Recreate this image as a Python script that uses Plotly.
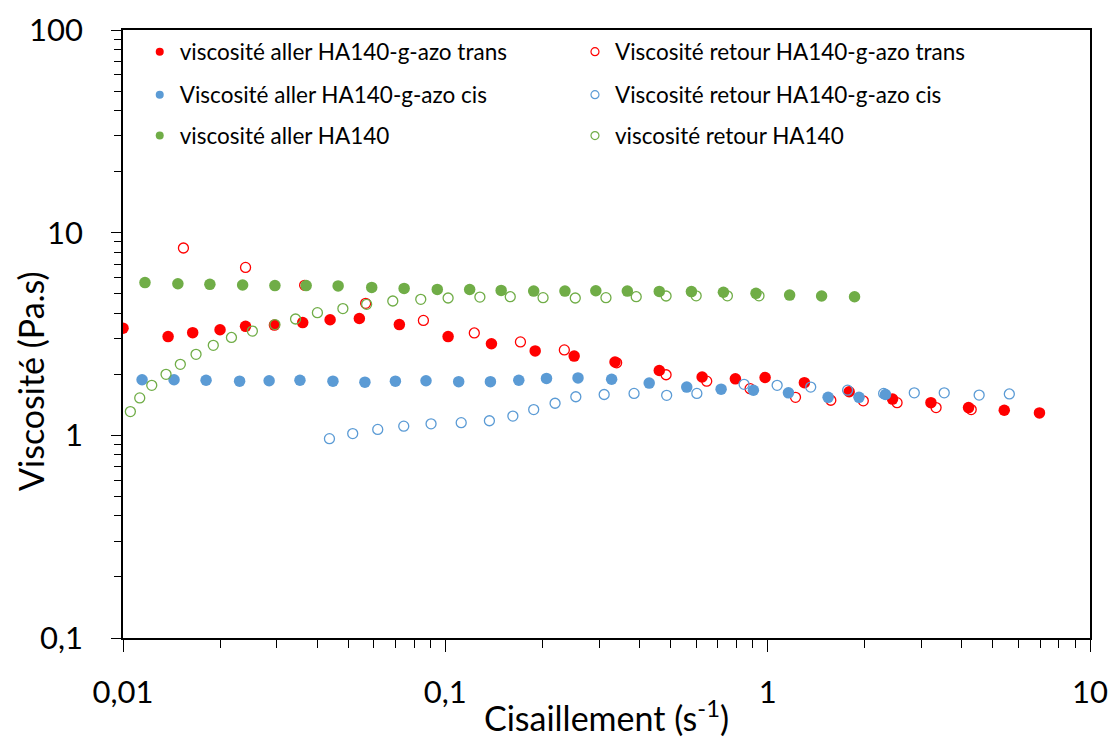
import plotly.graph_objects as go

# --- data ---
x_trans_aller = [0.0100, 0.0138, 0.01645, 0.0200, 0.0240, 0.0295, 0.0361, 0.0439, 0.0541, 0.0720,
                 0.102, 0.139, 0.190, 0.251, 0.336, 0.461, 0.626, 0.794, 0.982,
                 1.30, 1.79, 2.44, 3.21, 4.20, 5.42, 6.97]
y_trans_aller = [3.38, 3.07, 3.21, 3.32, 3.45, 3.50, 3.60, 3.72, 3.77, 3.52,
                 3.07, 2.83, 2.61, 2.46, 2.30, 2.09, 1.94, 1.90, 1.93,
                 1.82, 1.64, 1.51, 1.45, 1.37, 1.33, 1.29]

x_trans_retour = [0.0154, 0.0240, 0.0366, 0.0566, 0.0855, 0.123, 0.171, 0.234, 0.340, 0.484,
                  0.647, 0.882, 1.22, 1.57, 1.98, 2.52, 3.33, 4.28]
y_trans_retour = [8.40, 6.74, 5.50, 4.48, 3.69, 3.20, 2.89, 2.64, 2.28, 1.99,
                  1.85, 1.70, 1.54, 1.49, 1.48, 1.45, 1.37, 1.34]

x_cis_aller = [0.01146, 0.0144, 0.0181, 0.0230, 0.0284, 0.0354, 0.0448, 0.0563, 0.0700, 0.0871,
               0.110, 0.138, 0.169, 0.206, 0.258, 0.328, 0.429, 0.561, 0.717, 0.903,
               1.16, 1.54, 1.92, 2.32]
y_cis_aller = [1.88, 1.88, 1.87, 1.85, 1.86, 1.87, 1.85, 1.83, 1.85, 1.86,
               1.84, 1.84, 1.87, 1.91, 1.92, 1.89, 1.81, 1.73, 1.69, 1.67,
               1.62, 1.54, 1.54, 1.59]

x_cis_retour = [0.0437, 0.0516, 0.0617, 0.0743, 0.0903, 0.112, 0.137, 0.162, 0.188, 0.219,
                0.254, 0.311, 0.385, 0.486, 0.603, 0.845, 1.07, 1.36, 1.77, 2.29,
                2.85, 3.53, 4.53, 5.62]
y_cis_retour = [0.963, 1.02, 1.07, 1.11, 1.14, 1.155, 1.18, 1.245, 1.34, 1.44,
                1.55, 1.59, 1.61, 1.575, 1.61, 1.785, 1.765, 1.73, 1.67, 1.61,
                1.62, 1.62, 1.58, 1.60]

x_ha_aller = [0.0117, 0.0148, 0.0186, 0.0235, 0.0296, 0.0370, 0.0465, 0.0591, 0.0745, 0.0944,
              0.119, 0.149, 0.188, 0.235, 0.293, 0.367, 0.461, 0.580, 0.729, 0.920,
              1.17, 1.47, 1.86]
y_ha_aller = [5.67, 5.60, 5.56, 5.52, 5.48, 5.48, 5.46, 5.37, 5.31, 5.25,
              5.24, 5.19, 5.15, 5.15, 5.17, 5.15, 5.13, 5.12, 5.08, 5.02,
              4.92, 4.87, 4.83]

x_ha_retour = [0.01054, 0.01127, 0.01228, 0.01360, 0.01506, 0.01685, 0.01906, 0.0217, 0.0252, 0.0296,
               0.0343, 0.0401, 0.0481, 0.0570, 0.0687, 0.0839, 0.102, 0.128, 0.159, 0.201,
               0.253, 0.315, 0.391, 0.484, 0.600, 0.750, 0.940]
y_ha_retour = [1.31, 1.53, 1.765, 2.00, 2.24, 2.51, 2.78, 3.04, 3.27, 3.52,
               3.75, 4.03, 4.22, 4.43, 4.60, 4.69, 4.76, 4.81, 4.83, 4.78,
               4.76, 4.78, 4.83, 4.87, 4.88, 4.88, 4.88]

names = ["viscosité aller HA140-g-azo trans", "Viscosité retour HA140-g-azo trans",
         "Viscosité aller HA140-g-azo cis", "Viscosité retour HA140-g-azo cis",
         "viscosité aller HA140", "viscosité retour HA140"]

y_tickvals = [0.1, 1, 10, 100]
y_ticktext = ["0,1", "1", "10", "100"]
x_tickvals = [0.01, 0.1, 1, 10]
x_ticktext = ["0,01", "0,1", "1", "10"]

x_title = "Cisaillement (s<sup>-1</sup>)"
y_title = "Viscosité (Pa.s)"

RED = "#FF0000"
BLUE = "#5B9BD5"
GREEN = "#70AD47"
FONT = "Lato, 'Open Sans', sans-serif"

series = [
    (x_trans_aller, y_trans_aller, RED, True),
    (x_trans_retour, y_trans_retour, RED, False),
    (x_cis_aller, y_cis_aller, BLUE, True),
    (x_cis_retour, y_cis_retour, BLUE, False),
    (x_ha_aller, y_ha_aller, GREEN, True),
    (x_ha_retour, y_ha_retour, GREEN, False),
]

fig = go.Figure()

for i, (xs, ys, col, filled) in enumerate(series):
    if filled:
        marker = dict(size=11.5, color=col, symbol="circle", line=dict(width=0))
    else:
        marker = dict(size=10, color=col, symbol="circle-open", line=dict(width=1.3))
    fig.add_trace(go.Scatter(x=xs, y=ys, mode="markers", marker=marker,
                             name=names[i], showlegend=False, hoverinfo="x+y"))

# legend entries (small symbols), each in its own legend for exact placement
legend_pos = [
    (0.0173, 0.9638), (0.4674, 0.9638),
    (0.0173, 0.893), (0.4674, 0.893),
    (0.0173, 0.8257), (0.4674, 0.8257),
]
for i, (xs, ys, col, filled) in enumerate(series):
    lname = "legend" if i == 0 else f"legend{i+1}"
    if filled:
        marker = dict(size=8, color=col, symbol="circle")
    else:
        marker = dict(size=8, color=col, symbol="circle-open", line=dict(width=1.2))
    fig.add_trace(go.Scatter(x=[None], y=[None], mode="markers", marker=marker,
                             name=names[i], showlegend=True, legend=lname))

legend_common = dict(font=dict(family=FONT, size=22.5, color="black"),
                     bgcolor="rgba(0,0,0,0)", borderwidth=0,
                     xanchor="left", yanchor="middle", itemwidth=30)
layout_legends = {}
for i, (lx, ly) in enumerate(legend_pos):
    lname = "legend" if i == 0 else f"legend{i+1}"
    layout_legends[lname] = dict(x=lx, y=ly, **legend_common)

fig.update_layout(
    width=1113, height=738,
    margin=dict(l=123, r=23, t=30, b=100),
    paper_bgcolor="white", plot_bgcolor="white",
    font=dict(family=FONT, color="black"),
    separators=", ",
    **layout_legends,
)

fig.update_xaxes(
    type="log", range=[-2, 1], automargin=False,
    tickmode="array", tickvals=x_tickvals, ticktext=x_ticktext,
    ticks="outside", ticklen=12, tickwidth=1.2, tickcolor="black",
    minor=dict(ticks="outside", ticklen=8, tickwidth=1, tickcolor="black", dtick="D1", showgrid=False),
    showgrid=False, zeroline=False,
    showline=True, linecolor="black", linewidth=1.5, mirror=True,
    tickfont=dict(family=FONT, size=31, color="black"),
    ticklabelstandoff=14,
    title=dict(text=x_title, font=dict(family=FONT, size=34, color="black"), standoff=0),
)
fig.update_yaxes(
    type="log", range=[-1, 2], automargin=False,
    tickmode="array", tickvals=y_tickvals, ticktext=y_ticktext,
    ticks="outside", ticklen=10, tickwidth=1.2, tickcolor="black",
    minor=dict(ticks="outside", ticklen=7, tickwidth=1, tickcolor="black", dtick="D1", showgrid=False),
    showgrid=False, zeroline=False,
    showline=True, linecolor="black", linewidth=1.5, mirror=True,
    tickfont=dict(family=FONT, size=31, color="black"),
    ticklabelstandoff=22,
)

# y-axis title as a rotated annotation (centred lower than the plot, as in the reference)
fig.add_annotation(text=y_title, xref="paper", yref="paper",
                   x=-(123 - 30) / 967, y=1 - (381 - 30) / 608,
                   xanchor="center", yanchor="middle", textangle=-90, showarrow=False,
                   font=dict(family=FONT, size=34, color="black"))

fig.write_html("out.html", config={"displayModeBar": False},
               post_script="document.body.style.margin='0';document.body.style.padding='0';")
